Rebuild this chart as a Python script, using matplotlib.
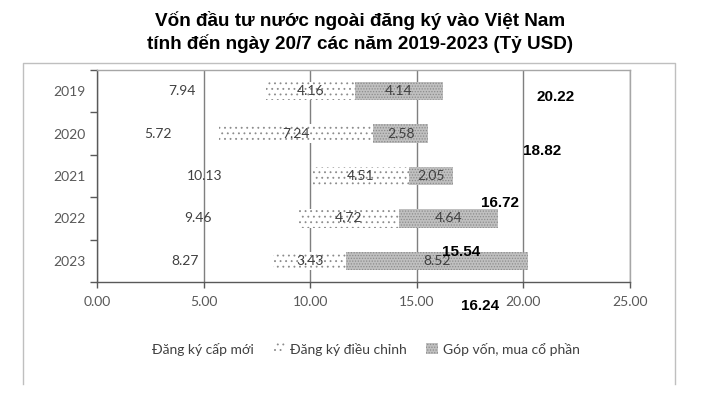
import matplotlib
matplotlib.use("Agg")
import matplotlib.pyplot as plt
from matplotlib.patches import Patch
from matplotlib.lines import Line2D
import numpy as np

plt.rcParams['font.family'] = ['Lato', 'DejaVu Sans']
plt.rcParams['hatch.linewidth'] = 0.6

years = ["2019", "2020", "2021", "2022", "2023"]
cap_moi = [7.94, 5.72, 10.13, 9.46, 8.27]
dieu_chinh = [4.16, 7.24, 4.51, 4.72, 3.43]
gop_von = [4.14, 2.58, 2.05, 4.64, 8.52]
series_names = ["Đăng ký cấp mới", "Đăng ký điều chỉnh", "Góp vốn, mua cổ phần"]
total_labels = ["20.22", "18.82", "16.72", "15.54", "16.24"]
# where the (misplaced) total labels sit in the reference, data coordinates
total_label_pos = [(21.5, 0.14), (20.87, 1.415), (18.92, 2.64), (17.08, 3.80), (17.98, 5.07)]
xticks = [0, 5, 10, 15, 20, 25]

fig = plt.figure(figsize=(7.2, 3.96), dpi=100)
ax = fig.add_axes([97/720, 1-282/396, (630-97)/720, (282-70)/396])

y = np.arange(len(years))
h = 0.43
a = np.array(cap_moi); b = np.array(dieu_chinh); c = np.array(gop_von)

ax.barh(y, a, height=h, fill=False, linewidth=0, zorder=2)
ax.barh(y, b, left=a, height=h, facecolor='white', edgecolor='#8c8c8c', hatch='...', linewidth=0, zorder=2)
ax.barh(y, c, left=a+b, height=h, facecolor='#c0c0c0', edgecolor='#8c8c8c', hatch='......', linewidth=0, zorder=2)

lab_col = '#404040'
for i in range(len(years)):
    ax.text(a[i]/2, y[i], f"{a[i]:.2f}", ha='center', va='center', fontsize=10, color=lab_col, zorder=4)
    ax.text(a[i]+b[i]/2, y[i], f"{b[i]:.2f}", ha='center', va='center', fontsize=10, color=lab_col, zorder=4)
    ax.text(a[i]+b[i]+c[i]/2, y[i], f"{c[i]:.2f}", ha='center', va='center', fontsize=10, color=lab_col, zorder=4)

for lbl, (px, py) in zip(total_labels, total_label_pos):
    ax.text(px, py, lbl, ha='center', va='center', fontsize=11, fontweight='bold',
            family=['Liberation Sans', 'DejaVu Sans'], color='black', zorder=5, clip_on=False)

ax.set_xlim(0, 25)
ax.set_ylim(len(years)-0.5, -0.5)
ax.set_xticks(xticks)
ax.set_xticklabels([f"{v:.2f}" for v in xticks], fontsize=10, color='#595959')
ax.set_yticks(y)
ax.set_yticklabels(years, fontsize=10, color='#595959')
ax.tick_params(axis='y', which='major', length=0, pad=8)
ax.set_yticks(np.arange(-0.5, len(years), 1.0), minor=True)
ax.tick_params(axis='y', which='minor', length=5, color='#595959', width=1)
ax.tick_params(axis='x', length=4, color='#595959', width=1, pad=6)

ax.grid(axis='x', color='#7f7f7f', linewidth=1, zorder=1)
ax.set_axisbelow(True)
for s in ['left', 'bottom']:
    ax.spines[s].set_color('#595959')
    ax.spines[s].set_linewidth(1)
for s in ['top', 'right']:
    ax.spines[s].set_color('#a6a6a6')
    ax.spines[s].set_linewidth(1)

# outer chart frame (bottom cut off)
fx0, fx1, fy0, fy1 = 23/720, 675/720, 1-384/396, 1-63/396
fig.add_artist(Line2D([fx0, fx0, fx1, fx1], [fy0, fy1, fy1, fy0], color='#bfbfbf', linewidth=1, transform=fig.transFigure))

fig.text(0.5, 1-21/396, "Vốn đầu tư nước ngoài đăng ký vào Việt Nam", ha='center', va='center',
         fontsize=13.6, fontweight='bold', family=['Liberation Sans', 'DejaVu Sans'])
fig.text(0.5, 1-44/396, "tính đến ngày 20/7 các năm 2019-2023 (Tỷ USD)", ha='center', va='center',
         fontsize=13.6, fontweight='bold', family=['Liberation Sans', 'DejaVu Sans'])

handles = [Patch(fill=False, linewidth=0),
           Patch(facecolor='white', edgecolor='#8c8c8c', hatch='...', linewidth=0),
           Patch(facecolor='#c0c0c0', edgecolor='#8c8c8c', hatch='......', linewidth=0)]
fig.legend(handles, series_names, loc='center', bbox_to_anchor=(0.497, 1-349/396), ncol=3,
           frameon=False, fontsize=10, handlelength=0.8, handleheight=0.8, handletextpad=0.4,
           columnspacing=1.4, labelcolor='#404040')

fig.savefig("out.png", dpi=100)
